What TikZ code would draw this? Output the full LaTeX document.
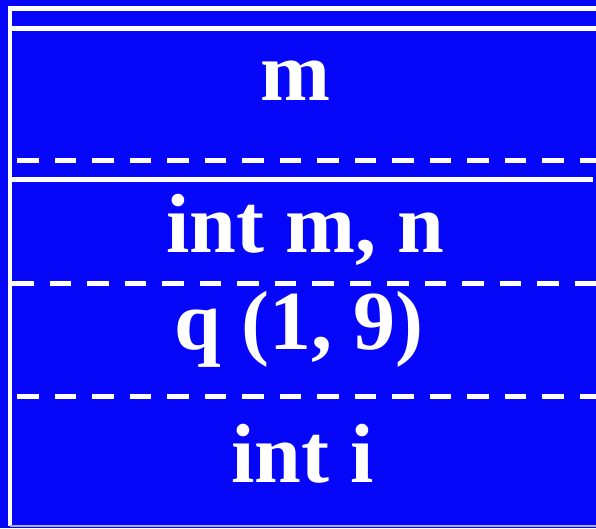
\documentclass[tikz,border=0pt]{standalone}
\usepackage{fontspec}
\setmainfont{Liberation Serif}
\definecolor{bgblue}{RGB}{6,6,248}
\definecolor{rimline}{RGB}{170,170,255}
\begin{document}
\begin{tikzpicture}[x=1pt,y=-1pt,
  wline/.style={draw=white,line width=5pt},
  dline/.style={draw=white,line width=5pt,dash pattern=on 21.5pt off 16pt},
  lbl/.style={text=white,font=\fontsize{84}{84}\selectfont\bfseries,anchor=base,inner sep=0pt}]
\fill[bgblue] (0,0) rectangle (596,528);
\useasboundingbox (0,0) rectangle (596,528);
% frame
\draw[wline] (10,8.5) -- (596,8.5);
\draw[wline,line width=4pt] (10,6) -- (10,526);
\draw[wline] (12,28) -- (596,28);
\draw[dline] (17,160.5) -- (596,160.5);
\draw[wline] (10,179) -- (593,179);
\draw[dline] (12,283) -- (596,283);
\draw[dline] (17,396) -- (596,396);
\draw[draw=rimline,line width=1.5pt] (10,526) -- (596,526);
% labels
\node[lbl] (m) at (295,100) {m};
\node[lbl] (mn) at (305,252.5) {int m, n};
\node[lbl] (q) at (299,349) {q (1, 9)};
\node[lbl] (i) at (302.5,482) {int i};
\end{tikzpicture}
\end{document}
